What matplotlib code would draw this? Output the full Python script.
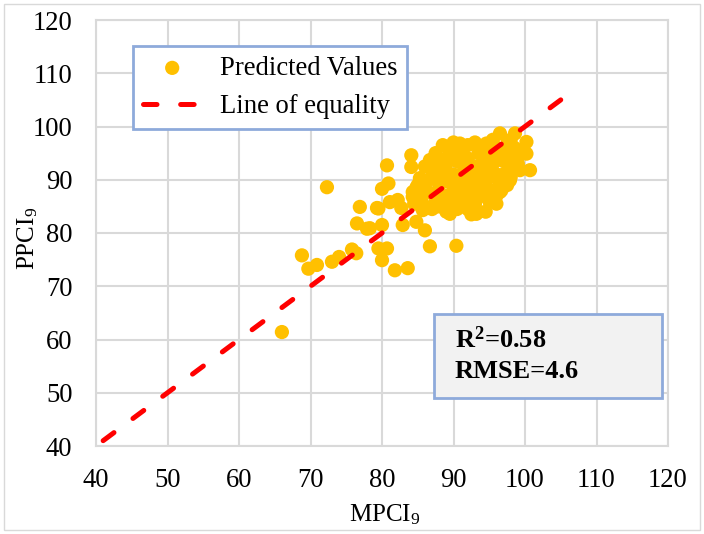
import matplotlib
matplotlib.use("Agg")
import matplotlib.pyplot as plt
from matplotlib.patches import Rectangle

plt.rcParams['font.family'] = ['Liberation Serif', 'DejaVu Serif']
plt.rcParams['mathtext.fontset'] = 'custom'
plt.rcParams['mathtext.rm'] = 'Liberation Serif'
plt.rcParams['mathtext.it'] = 'Liberation Serif:italic'
plt.rcParams['mathtext.bf'] = 'Liberation Serif:bold'

mpci = [66.0, 68.8, 69.7, 70.9, 72.3, 73.0, 74.0, 75.8, 76.4, 76.5, 76.9, 77.9,
        79.5, 80.0, 79.5, 80.7, 80.0, 81.8, 83.6, 80.7, 80.0, 80.9, 79.3, 81.1,
        82.2, 82.7, 78.3, 82.9, 84.8, 86.0, 86.7, 90.4, 84.1, 84.1, 85.3, 84.3,
        84.3, 86.4, 85.7, 87.4, 89.5, 86.7, 88.5, 90.6, 88.1,
        96.5, 98.6, 97.6, 100.2, 100.2, 100.7, 99.3, 97.9, 96.7, 95.1, 93.5, 91.8,
        90.9, 94.6, 98.8, 89.5, 93.2, 96.5,
        86, 86.5, 87, 87.5, 88, 88, 88.5, 89, 89, 89.5, 89.5, 90, 90, 90.5, 90.5,
        91, 91, 91.5, 91.5, 92, 92, 92.5, 92.5, 93, 93, 93.5, 93.5, 94, 94, 94.5,
        94.5, 95, 95, 95.5, 95.5, 96, 96, 96.5, 97, 97, 97.5, 98, 98.5, 88, 87,
        89, 91, 92, 93, 95, 96, 87, 85.5, 85, 86, 87.5, 90, 92, 93, 94, 95.5, 91,
        89, 90, 92, 93, 94, 91, 95, 96.5, 97.5, 99, 99.5, 98, 88, 86, 84.5, 84.8,
        87, 90.5, 94.5, 92.5, 96, 98]
ppci = [61.4, 75.8, 73.3, 74.0, 88.6, 74.6, 75.5, 76.9, 76.2, 81.8, 84.9, 80.8,
        84.6, 81.5, 77.1, 77.1, 74.9, 73.0, 73.4, 92.7, 88.3, 89.3, 84.7, 85.8,
        86.2, 84.7, 80.9, 81.5, 82.1, 80.5, 77.5, 77.6, 94.6, 92.4, 90.3, 87.7,
        86.8, 87.7, 84.3, 84.9, 85.6, 93.7, 96.5, 96.5, 91.8,
        98.7, 98.7, 97.1, 97.1, 94.9, 91.8, 91.8, 89.9, 88.0, 87.1, 84.0, 85.2,
        96.8, 96.8, 94.3, 83.6, 83.6, 87.7,
        88, 90, 92, 86, 89, 94, 91, 87, 93, 95, 89.5, 91, 86, 88, 93.5,
        90, 95, 87, 92, 89, 94, 90.5, 86, 92.5, 88, 95, 90, 87, 93, 89,
        91.5, 95, 90.5, 88, 93, 91, 96, 89.5, 93.5, 91, 95, 92.5, 96, 85, 84.5,
        84, 85, 84.5, 85.5, 86, 87, 90.5, 86.5, 89, 92.5, 95, 97, 96.5, 97, 95.5, 97.5, 93.5,
        91.5, 89, 91, 89, 91, 88.5, 92, 94, 89, 93, 95.5, 97.5, 87.5, 85, 85.5, 88.5,
        93.5, 84.5, 84, 83.5, 85.5, 90.5]

eq_line = [41, 105]
xticks = [40, 50, 60, 70, 80, 90, 100, 110, 120]
yticks = [40, 50, 60, 70, 80, 90, 100, 110, 120]

W, H = 704, 534
fig = plt.figure(figsize=(W / 100, H / 100), dpi=100)
ax = fig.add_axes([96 / W, 1 - 446 / H, 572 / W, 426 / H])

ax.set_xlim(40, 120)
ax.set_ylim(40, 120)
ax.set_xticks(xticks)
ax.set_yticks(yticks)
ax.grid(True, color='#d9d9d9', linewidth=1.5, zorder=0)
ax.set_axisbelow(True)
for s in ax.spines.values():
    s.set_color('#d9d9d9')
    s.set_linewidth(1.5)
ax.tick_params(length=0, labelsize=19.2, colors='black')
ax.tick_params(axis='x', pad=16)
ax.tick_params(axis='y', pad=17)

ax.scatter(mpci, ppci, s=105, color='#ffc000', edgecolors='none', zorder=3,
           label='Predicted Values')
ax.plot(eq_line, eq_line, color='#ff0000', linewidth=3.6, linestyle=(0, (2.7, 4.73)),
        dash_capstyle='round', zorder=4, label='Line of equality')

leg = ax.legend(loc='upper left', bbox_to_anchor=((133 - 96) / 572, (446 - 46) / 426),
                borderaxespad=0, fontsize=19.2, frameon=True, fancybox=False,
                handlelength=2.2, handletextpad=0.68, labelspacing=0.5,
                borderpad=0.37, markerscale=1.0)
leg.get_frame().set_edgecolor('#8eaadb')
leg.get_frame().set_linewidth(2)
leg.get_frame().set_alpha(1)

rect = Rectangle(((434 - 96) / 572, (446 - 398) / 426), (662 - 434) / 572, (398 - 314) / 426,
                 transform=ax.transAxes, facecolor='#f2f2f2', edgecolor='#8eaadb',
                 linewidth=2, zorder=5)
ax.add_patch(rect)
ax.text((455 - 96) / 572, (446 - 340) / 426, r'R$^{\mathbf{2}}$=0.58', transform=ax.transAxes,
        fontsize=19, fontweight='bold', va='center', ha='left', zorder=6)
ax.text((455 - 96) / 572, (446 - 372) / 426, 'RMSE=4.6', transform=ax.transAxes,
        fontsize=19, fontweight='bold', va='center', ha='left', zorder=6)

fig.text(385 / W, 1 - 515 / H, r'MPCI$_9$', fontsize=18, ha='center', va='center')
fig.text(28 / W, 1 - 238 / H, r'PPCI$_9$', fontsize=18, ha='center', va='center',
         rotation=90)

border = Rectangle((4 / W, 4 / H), 1 - 8 / W, 1 - 8 / H, transform=fig.transFigure,
                   facecolor='none', edgecolor='#d9d9d9', linewidth=1)
fig.patches.append(border)

fig.savefig('out.png', dpi=100)
